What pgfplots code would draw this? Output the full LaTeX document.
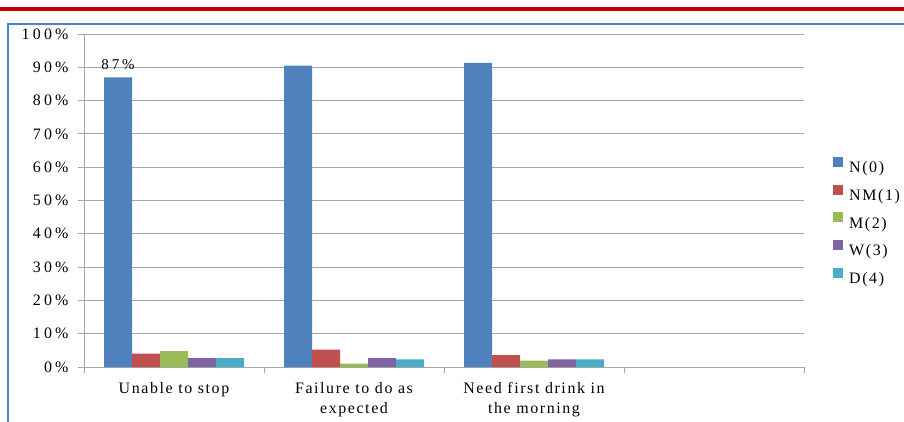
\documentclass[border=0pt]{standalone}
\usepackage{pgfplots}
\pgfplotsset{compat=1.18}
\usepackage{fontspec}
\setmainfont[LetterSpace=10]{Liberation Serif}
\newfontfamily\numfont[LetterSpace=20]{Liberation Serif}
\definecolor{cN}{HTML}{4F81BD}
\definecolor{cNM}{HTML}{C0504D}
\definecolor{cM}{HTML}{9BBB59}
\definecolor{cW}{HTML}{8064A2}
\definecolor{cD}{HTML}{4BACC6}
\definecolor{gridc}{HTML}{A6A6A6}
\definecolor{redline}{HTML}{C00000}
\begin{document}
\begin{tikzpicture}[x=1bp,y=1bp]
\path[use as bounding box] (0,0) rectangle (904,421);
\fill[redline] (0,410) rectangle (904,414);
\draw[cN, line width=1.5bp] (8,-2) -- (8,397) -- (910,397);
\begin{axis}[
  at={(84bp,54bp)}, anchor=south west,
  scale only axis, width=720bp, height=333bp,
  ybar=0pt, bar width=28bp,
  xmin=-0.5, xmax=3.5, ymin=0, ymax=100,
  axis lines=left, axis line style={-, gridc, line width=0.9bp},
  ymajorgrids, grid style={gridc, line width=0.9bp},
  ytick={0,10,...,100},
  yticklabel={\pgfmathprintnumber{\tick}\%},
  /pgf/number format/assume math mode=true,
  xtick={0,1,2}, xticklabels={Unable to stop, {Failure to do as\\expected}, {Need first drink in\\the morning}},
  minor xtick={-0.5,0.5,1.5,2.5,3.5},
  tick align=outside, major tick length=6bp, minor tick length=6bp,
  xtick style={draw=none}, minor x tick style={draw=gridc, line width=0.9bp},
  ytick style={draw=gridc, line width=0.9bp},
  tick label style={font=\fontsize{16}{20}\selectfont, text=black},
  xticklabel style={align=center, yshift=-6bp},
  yticklabel style={xshift=-6bp, font=\numfont\fontsize{16}{20}\selectfont},
  legend style={at={(rel axis cs:1.0403,0.632)}, anchor=north west, draw=none, fill=none,
    font=\fontsize{16}{18}\selectfont, row sep=8.5bp, inner sep=0pt,
    legend cell align=left, nodes={inner xsep=6bp}},
  legend image code/.code={\fill[#1] (0bp,1bp) rectangle (10bp,11bp);},
  clip=false,
]
\addplot[fill=cN, draw=none] coordinates {(0,87) (1,90.5) (2,91.3)};
\addplot[fill=cNM, draw=none] coordinates {(0,4.0) (1,5.2) (2,3.6)};
\addplot[fill=cM, draw=none] coordinates {(0,4.8) (1,1.0) (2,1.9)};
\addplot[fill=cW, draw=none] coordinates {(0,2.7) (1,2.7) (2,2.3)};
\addplot[fill=cD, draw=none] coordinates {(0,2.7) (1,2.3) (2,2.3)};
\legend{N(0), NM(1), M(2), W(3), D(4)}
\node[above, font=\numfont\fontsize{15}{17}\selectfont, inner sep=0pt] at ([xshift=-56bp, yshift=7bp]axis cs:0,87) {87\%};
\end{axis}
\end{tikzpicture}
\end{document}
